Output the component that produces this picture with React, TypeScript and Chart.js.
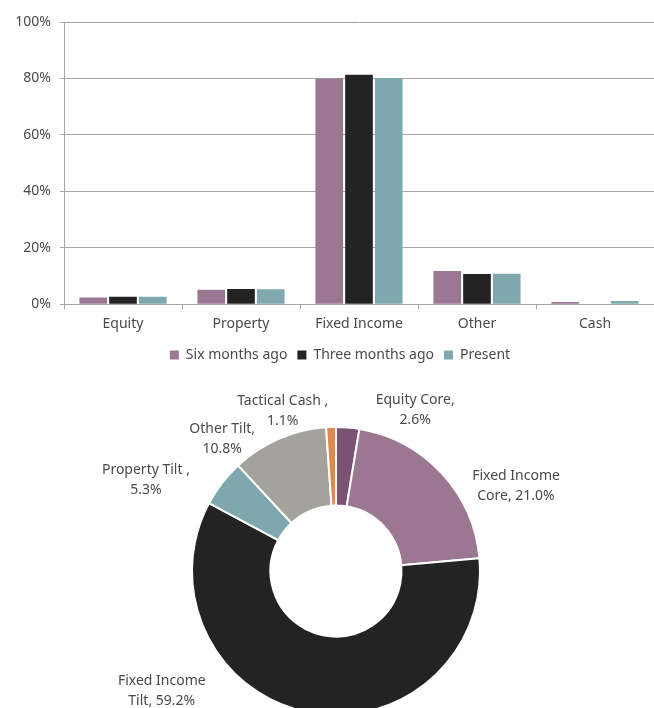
import React, { useEffect, useRef } from "react";
import { Chart, registerables } from "chart.js";

Chart.register(...registerables);

const categories = ["Equity", "Property", "Fixed Income", "Other", "Cash"];
const sixMonthsAgo = [2.4, 5.1, 80.0, 11.8, 0.8];
const threeMonthsAgo = [2.6, 5.4, 81.3, 10.7, 0.0];
const present = [2.6, 5.3, 80.2, 10.8, 1.1];
const seriesNames = ["Six months ago", "Three months ago", "Present"];
const yTicks = [0, 20, 40, 60, 80, 100];

const sliceLabels = ["Equity Core", "Fixed Income Core", "Fixed Income Tilt", "Property Tilt", "Other Tilt", "Tactical Cash"];
const sliceValues = [2.6, 21.0, 59.2, 5.3, 10.8, 1.1];
const sliceLabelText = [
  ["Equity Core,", "2.6%"],
  ["Fixed Income", "Core, 21.0%"],
  ["Fixed Income", "Tilt, 59.2%"],
  ["Property Tilt ,", "5.3%"],
  ["Other Tilt,", "10.8%"],
  ["Tactical Cash ,", "1.1%"],
];

const FONT = "'Noto Sans', sans-serif";
const FS = 14;
const TEXT = "#4a4a4a";
const PURPLE = "#9c7791";
const BLACK = "#232323";
const TEAL = "#7fa8ae";
const GRID = "#a6a6a6";
const sliceColors = ["#7b5272", PURPLE, BLACK, TEAL, "#a3a29d", "#de8a4f"];

// label placement relative to the doughnut centre, in units of the outer radius
const labelPlacement = [
  { dx: 0.55, dy: -1.12 },
  { dx: 1.25, dy: -0.59 },
  { dx: -1.21, dy: 0.83 },
  { dx: -1.32, dy: -0.63 },
  { dx: -0.79, dy: -0.92 },
  { dx: -0.37, dy: -1.11 },
];

const labelPlugin = {
  id: "sliceLabels",
  afterDraw(chart: any) {
    const meta = chart.getDatasetMeta(0);
    const arc = meta.data[0];
    if (!arc) return;
    const { x, y, outerRadius } = arc.getProps(["x", "y", "outerRadius"], true);
    const ctx = chart.ctx;
    ctx.save();
    ctx.font = `${FS}px ${FONT}`;
    ctx.fillStyle = TEXT;
    ctx.textAlign = "center";
    ctx.textBaseline = "middle";
    sliceLabelText.forEach((lines, i) => {
      const p = labelPlacement[i];
      const cx = x + p.dx * outerRadius;
      const cy = y + p.dy * outerRadius;
      const lh = 20;
      lines.forEach((t, j) => {
        ctx.fillText(t, cx, cy + (j - (lines.length - 1) / 2) * lh);
      });
    });
    ctx.restore();
  },
};

// nudge the legend slightly to the right, as in the reference
const legendShift = {
  id: "legendShift",
  afterLayout(chart: any) {
    const lg = chart.legend;
    if (lg) lg.left += 26;
  },
};

export default function App() {
  const barRef = useRef<HTMLCanvasElement>(null);
  const pieRef = useRef<HTMLCanvasElement>(null);

  useEffect(() => {
    const bar = new Chart(barRef.current!, {
      type: "bar",
      data: {
        labels: categories,
        datasets: [
          { label: seriesNames[0], data: sixMonthsAgo, backgroundColor: PURPLE },
          { label: seriesNames[1], data: threeMonthsAgo, backgroundColor: BLACK },
          { label: seriesNames[2], data: present, backgroundColor: TEAL },
        ],
      },
      options: {
        responsive: false,
        animation: false,
        layout: { padding: { top: 22, right: 0, left: 0, bottom: 0 } },
        datasets: { bar: { categoryPercentage: 0.756, barPercentage: 0.93 } },
        plugins: {
          legend: {
            position: "bottom",
            labels: { boxWidth: 9, boxHeight: 9, color: TEXT, font: { family: FONT, size: FS }, padding: 10 },
          },
          tooltip: { enabled: false },
        },
        scales: {
          x: {
            grid: { drawOnChartArea: false, drawTicks: true, tickLength: 5, offset: true, color: GRID },
            border: { color: GRID, width: 1 },
            ticks: { color: TEXT, font: { family: FONT, size: FS }, padding: 6 },
          },
          y: {
            min: 0,
            max: 100,
            afterFit: (scale: any) => {
              scale.width = 64;
            },
            afterBuildTicks: (axis: any) => {
              axis.ticks = yTicks.map((v) => ({ value: v }));
            },
            grid: { color: GRID, tickLength: 4 },
            border: { color: GRID, width: 1 },
            ticks: { color: TEXT, font: { family: FONT, size: FS }, padding: 9, callback: (v: any) => v + "%" },
          },
        },
      },
      plugins: [legendShift],
    });

    const pie = new Chart(pieRef.current!, {
      type: "doughnut",
      data: {
        labels: sliceLabels,
        datasets: [
          { data: sliceValues, backgroundColor: sliceColors, borderColor: "#ffffff", borderWidth: 2 },
        ],
      },
      options: {
        responsive: false,
        animation: false,
        cutout: "45.5%",
        layout: { padding: { left: 191, right: 173, top: 54, bottom: 4 } },
        plugins: { legend: { display: false }, tooltip: { enabled: false } },
      },
      plugins: [labelPlugin],
    });

    return () => {
      bar.destroy();
      pie.destroy();
    };
  }, []);

  return (
    <div style={{ position: "absolute", left: 0, top: 0, width: 654, height: 708, overflow: "hidden", background: "#fff" }}>
      <canvas ref={barRef} width={654} height={372} style={{ position: "absolute", left: 0, top: 0, width: 654, height: 372 }} />
      <canvas ref={pieRef} width={654} height={348} style={{ position: "absolute", left: 0, top: 372, width: 654, height: 348 }} />
    </div>
  );
}
